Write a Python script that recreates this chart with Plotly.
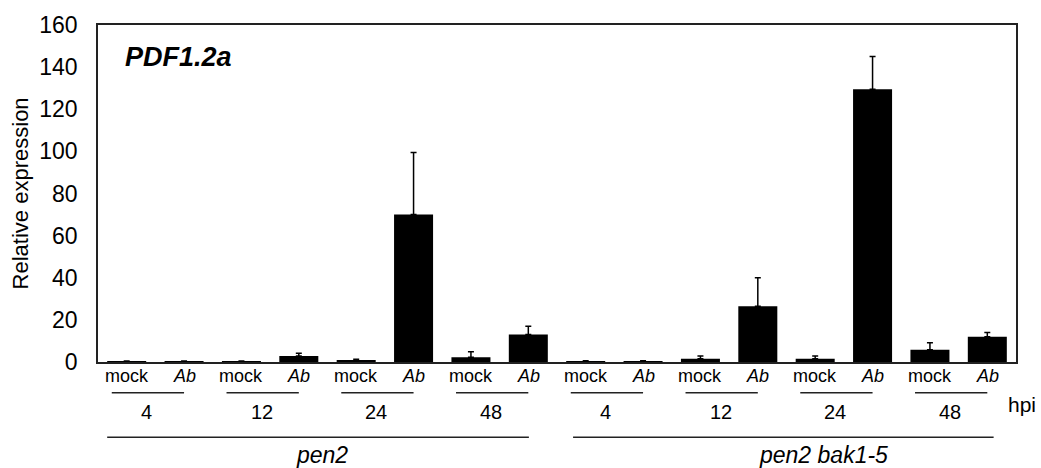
import plotly.graph_objects as go

# Relative PDF1.2a expression after Alternaria brassicicola (Ab) or mock treatment
genotypes = ["pen2", "pen2 bak1-5"]
timepoints = ["4", "12", "24", "48"]
treatments = ["mock", "Ab"]

# bar order: genotype -> timepoint -> treatment
values_pen2 = [0.3, 0.3, 0.3, 2.8, 0.8, 70.0, 2.3, 13.0]
errors_pen2 = [0.2, 0.2, 0.2, 1.3, 0.5, 29.5, 2.6, 4.0]
values_bak = [0.4, 0.4, 1.5, 26.5, 1.5, 129.5, 5.8, 12.0]
errors_bak = [0.2, 0.2, 1.3, 13.5, 1.3, 15.5, 3.3, 2.0]

values = values_pen2 + values_bak
errors = errors_pen2 + errors_bak
xpos = list(range(len(values)))

FONT = "Arial, Liberation Sans, Helvetica, sans-serif"

fig = go.Figure()
fig.add_trace(go.Bar(
    x=xpos,
    y=values,
    marker=dict(color="black", line=dict(width=0)),
    error_y=dict(type="data", array=errors, arrayminus=[0] * len(errors),
                 symmetric=False, color="black", thickness=1.5, width=3),
    showlegend=False,
))

annotations = []
shapes = []

# treatment labels under each bar
for i in xpos:
    t = treatments[i % 2]
    txt = "<i>Ab</i>" if t == "Ab" else t
    annotations.append(dict(x=i, y=-0.041, xref="x", yref="paper", text=txt,
                            showarrow=False, xanchor="center", yanchor="middle",
                            font=dict(size=18, color="black", family=FONT)))

# timepoint rows with underline
for g in range(len(genotypes)):
    for k, tp in enumerate(timepoints):
        c = g * 8 + 2 * k + 0.5
        shapes.append(dict(type="line", xref="x", yref="paper",
                           x0=c - 0.76, x1=c + 0.5, y0=-0.091, y1=-0.091,
                           line=dict(color="#222", width=1.5)))
        annotations.append(dict(x=c - 0.15, y=-0.147, xref="x", yref="paper", text=tp,
                                showarrow=False, xanchor="center", yanchor="middle",
                                font=dict(size=20, color="black", family=FONT)))

# genotype rows
geno_spans = [(-0.34, 7.01), (7.78, 15.11)]
geno_centers = [3.4, 12.14]
for (a, b), c, name in zip(geno_spans, geno_centers, genotypes):
    shapes.append(dict(type="line", xref="x", yref="paper",
                       x0=a, x1=b, y0=-0.2235, y1=-0.2235,
                       line=dict(color="#222", width=1.5)))
    annotations.append(dict(x=c, y=-0.276, xref="x", yref="paper", text=f"<i>{name}</i>",
                            showarrow=False, xanchor="center", yanchor="middle",
                            font=dict(size=23, color="black", family=FONT)))

annotations.append(dict(x=1.006, y=-0.126, xref="paper", yref="paper", text="hpi",
                        showarrow=False, xanchor="center", yanchor="middle",
                        font=dict(size=21, color="black", family=FONT)))

annotations.append(dict(x=0.027, y=0.906, xref="paper", yref="paper",
                        text="<b><i>PDF1.2a</i></b>",
                        showarrow=False, xanchor="left", yanchor="middle",
                        font=dict(size=27, color="black", family=FONT)))

annotations.append(dict(x=-0.084, y=0.5, xref="paper", yref="paper",
                        text="Relative expression", textangle=-90,
                        showarrow=False, xanchor="center", yanchor="middle",
                        font=dict(size=22, color="black", family=FONT)))

fig.update_layout(
    width=1041, height=468,
    margin=dict(l=98, r=25, t=22, b=106),
    paper_bgcolor="white", plot_bgcolor="white",
    bargap=0.32,
    font=dict(family=FONT, color="black"),
    annotations=annotations,
    shapes=shapes,
    xaxis=dict(range=[-0.5, 15.5], showticklabels=False, ticks="",
               showline=True, linecolor="#222", linewidth=1.5, mirror=True,
               showgrid=False, zeroline=False, fixedrange=True),
    yaxis=dict(range=[0, 160], dtick=20, ticks="", ticklabelstandoff=14,
               tickfont=dict(size=23, color="black", family=FONT),
               showline=True, linecolor="#222", linewidth=1.5, mirror=True,
               showgrid=False, zeroline=False, fixedrange=True),
)

fig.write_html("out.html")
